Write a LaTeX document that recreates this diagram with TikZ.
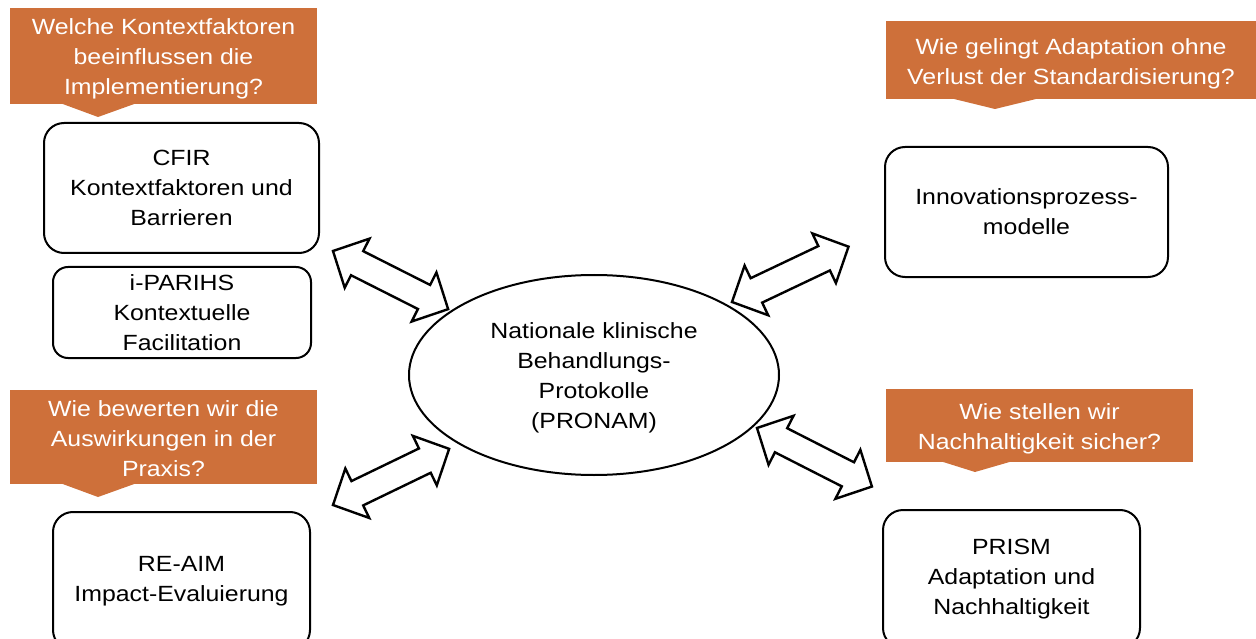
\documentclass[tikz,border=0pt]{standalone}
\usepackage{fontspec}
\setmainfont[FakeStretch=1.13]{Liberation Sans}
\usetikzlibrary{shapes.geometric}
\definecolor{calloutorange}{RGB}{206,112,58}
\tikzset{
  txt/.style={font=\fontsize{22}{30}\selectfont, align=center},
  modelbox/.style={txt, draw=black, line width=2pt, rounded corners=20pt, inner sep=0pt},
  qbox/.style={fill=calloutorange, inner sep=0pt},
  qtext/.style={txt, text=white, inner sep=0pt},
  qpointer/.style={fill=calloutorange},
  blockarrow/.style={draw=black, fill=white, line width=2.4pt, line join=miter},
  dblarrow/.pic={
    \path[blockarrow] (0,0) -- (27,27.5) -- (27,13.5) -- (102,13.5) -- (102,27.5)
      -- (129,0) -- (102,-27.5) -- (102,-13.5) -- (27,-13.5) -- (27,-27.5) -- cycle;
  }
}
\begin{document}
\begin{tikzpicture}[x=1pt,y=-1pt]
\clip (0,0) rectangle (1256,639);
\useasboundingbox (0,0) rectangle (1256,639);

% central ellipse
\node[ellipse, draw=black, line width=2pt, minimum width=370pt, minimum height=200pt, inner sep=0pt]
  (center) at (594,375) {};
\node[txt, inner sep=0pt] (centertext) at ([yshift=-3pt]center.center)
  {Nationale klinische\\Behandlungs-\\Protokolle\\(PRONAM)};

% model boxes
\node[modelbox, minimum width=275pt, minimum height=130pt] (cfir) at (181.5,188)
  {CFIR\\Kontextfaktoren und\\Barrieren};
\node[modelbox, rounded corners=15pt, minimum width=258pt, minimum height=91pt] (parihs) at (182,312.5)
  {i-PARIHS\\Kontextuelle\\Facilitation};
\node[modelbox, minimum width=257pt, minimum height=138pt] (reaim) at (181.5,581)
  {RE-AIM\\Impact-Evaluierung};
\node[modelbox, minimum width=283pt, minimum height=130pt] (innov) at (1026.5,212)
  {Innovationsprozess-\\modelle};
\node[modelbox, minimum width=257pt, minimum height=138pt] (prism) at (1011.5,579)
  {PRISM\\Adaptation und\\Nachhaltigkeit};

% question callouts
\node[qbox, minimum width=307pt, minimum height=96pt] (q1) at (163.5,56) {};
\node[qtext] (q1t) at ([yshift=-3pt]q1.center)
  {Welche Kontextfaktoren\\beeinflussen die\\Implementierung?};
\fill[qpointer] (60,103) -- (98,117) -- (137,103) -- cycle;

\node[qbox, minimum width=307pt, minimum height=94pt] (q3) at (163.5,437) {};
\node[qtext] (q3t) at ([yshift=-2pt]q3.center)
  {Wie bewerten wir die\\Auswirkungen in der\\Praxis?};
\fill[qpointer] (60,483) -- (98,497) -- (137,483) -- cycle;

\node[qbox, minimum width=370pt, minimum height=78pt] (q2) at (1071,60) {};
\node[qtext] (q2t) at ([yshift=-4pt]q2.center)
  {Wie gelingt Adaptation ohne\\Verlust der Standardisierung?};
\fill[qpointer] (950,98) -- (995,109) -- (1040,98) -- cycle;

\node[qbox, minimum width=307pt, minimum height=73pt] (q4) at (1039.5,425.5) {};
\node[qtext] (q4t) at ([yshift=-3pt]q4.center)
  {Wie stellen wir\\Nachhaltigkeit sicher?};
\fill[qpointer] (940,461) -- (975,472) -- (1013,461) -- cycle;

% double block arrows
\pic[shift={(333,251)}, rotate=-26.8] {dblarrow};
\pic[shift={(732,302)}, rotate=25.4] {dblarrow};
\pic[shift={(333,505)}, rotate=25.8] {dblarrow};
\pic[shift={(757,428)}, rotate=-27.0] {dblarrow};
\end{tikzpicture}
\end{document}
